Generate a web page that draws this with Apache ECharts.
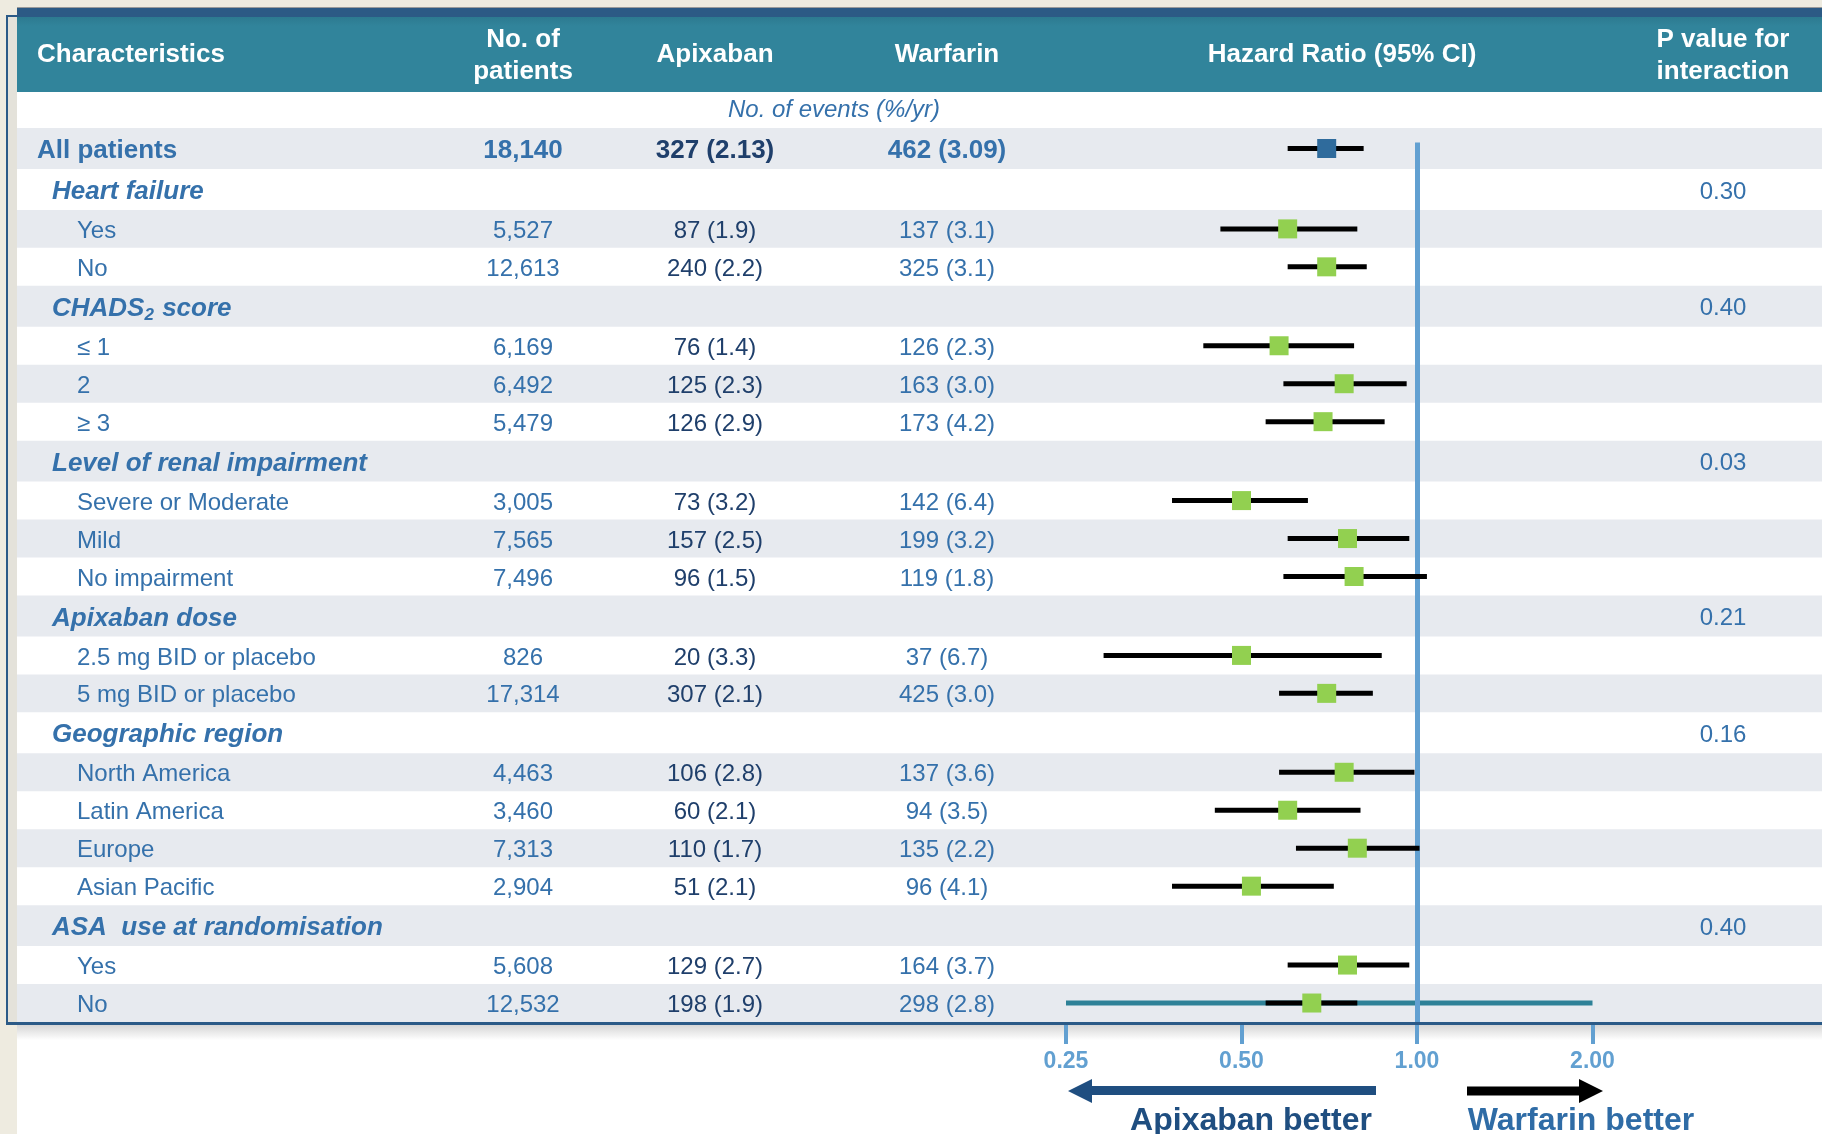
<!DOCTYPE html>
<html>
<head>
<meta charset="utf-8">
<script src="https://cdn.jsdelivr.net/npm/echarts@6/dist/echarts.min.js"></script>
<style>
  html, body { margin: 0; padding: 0; background: #EEEBE0; }
  #chart { width: 1822px; height: 1134px; }
</style>
</head>
<body>
<div id="chart"></div>
<script>
// ---- Subgroup table ----
const characteristics = [
  'All patients', 'Heart failure', 'Yes', 'No',
  'CHADS₂ score', '≤ 1', '2', '≥ 3',
  'Level of renal impairment', 'Severe or Moderate', 'Mild', 'No impairment',
  'Apixaban dose', '2.5 mg BID or placebo', '5 mg BID or placebo',
  'Geographic region', 'North America', 'Latin America', 'Europe', 'Asian Pacific',
  'ASA  use at randomisation', 'Yes', 'No'
];
const rowKinds = [
  'total', 'group', 'item', 'item',
  'group', 'item', 'item', 'item',
  'group', 'item', 'item', 'item',
  'group', 'item', 'item',
  'group', 'item', 'item', 'item', 'item',
  'group', 'item', 'item'
];
const patients = [
  '18,140', '', '5,527', '12,613',
  '', '6,169', '6,492', '5,479',
  '', '3,005', '7,565', '7,496',
  '', '826', '17,314',
  '', '4,463', '3,460', '7,313', '2,904',
  '', '5,608', '12,532'
];
const apixabanEvents = [
  '327 (2.13)', '', '87 (1.9)', '240 (2.2)',
  '', '76 (1.4)', '125 (2.3)', '126 (2.9)',
  '', '73 (3.2)', '157 (2.5)', '96 (1.5)',
  '', '20 (3.3)', '307 (2.1)',
  '', '106 (2.8)', '60 (2.1)', '110 (1.7)', '51 (2.1)',
  '', '129 (2.7)', '198 (1.9)'
];
const warfarinEvents = [
  '462 (3.09)', '', '137 (3.1)', '325 (3.1)',
  '', '126 (2.3)', '163 (3.0)', '173 (4.2)',
  '', '142 (6.4)', '199 (3.2)', '119 (1.8)',
  '', '37 (6.7)', '425 (3.0)',
  '', '137 (3.6)', '94 (3.5)', '135 (2.2)', '96 (4.1)',
  '', '164 (3.7)', '298 (2.8)'
];
const pInteraction = [
  '', '0.30', '', '',
  '0.40', '', '', '',
  '0.03', '', '', '',
  '0.21', '', '',
  '0.16', '', '', '', '',
  '0.40', '', ''
];

// ---- Hazard ratios (95% CI) ----
const hazardRatio = [
  0.70, null, 0.60, 0.70,
  null, 0.58, 0.75, 0.69,
  null, 0.50, 0.76, 0.78,
  null, 0.50, 0.70,
  null, 0.75, 0.60, 0.79, 0.52,
  null, 0.76, 0.66
];
const ciLower = [
  0.60, null, 0.46, 0.60,
  null, 0.43, 0.59, 0.55,
  null, 0.38, 0.60, 0.59,
  null, 0.29, 0.58,
  null, 0.58, 0.45, 0.62, 0.38,
  null, 0.60, 0.55
];
const ciUpper = [
  0.81, null, 0.79, 0.82,
  null, 0.78, 0.96, 0.88,
  null, 0.65, 0.97, 1.04,
  null, 0.87, 0.84,
  null, 0.99, 0.80, 1.01, 0.72,
  null, 0.97, 0.79
];
const hrTicks = [0.25, 0.5, 1, 2];
const referenceHR = 1;

// ---- Styling ----
const FONT = '"Liberation Sans", Arial, Helvetica, sans-serif';
const C = {
  beige: '#EEEBE0', band: '#2C5A85', teal: '#31849B', border: '#2B5A87',
  stripe: '#E7EAEF', label: '#3571AB', apix: '#1F3F6B', tick: '#62A0D1',
  green: '#92D050', total: '#2F6B9C', span: '#2E8197', arrowL: '#1F4E80',
  shadow: '#E4E2DA'
};
const COLS = { total: 37, group: 52, item: 77, patients: 523, apix: 715, warf: 947, p: 1723 };
const TEXT_DY = 2.5;

// Row bands: heading rows are a little taller than item rows.
const rowHeight = rowKinds.map(k => (k === 'item' ? 38 : 41));
const rowCenter = [];
let bandTotal = 0;
rowHeight.forEach(h => { rowCenter.push(bandTotal + h / 2); bandTotal += h; });
const lastRow = characteristics.length - 1;

const chart = echarts.init(document.getElementById('chart'), null, { renderer: 'canvas' });

function txt(text, x, y, o) {
  return {
    type: 'text', z2: 10,
    style: Object.assign({
      text: text, x: x, y: y + TEXT_DY, fill: C.label, fontFamily: FONT, fontSize: 24,
      fontWeight: 'normal', fontStyle: 'normal', align: 'center', verticalAlign: 'middle'
    }, o || {})
  };
}

function labelElement(label, kind, y) {
  const x = kind === 'total' ? COLS.total : (kind === 'group' ? COLS.group : COLS.item);
  const base = {
    fontSize: kind === 'item' ? 24 : 26,
    fontWeight: kind === 'item' ? 'normal' : 'bold',
    fontStyle: kind === 'group' ? 'italic' : 'normal',
    align: 'left'
  };
  if (label.indexOf('₂') >= 0) {
    const parts = label.split('₂');
    const tok = { fontFamily: FONT, fontSize: 26, fontWeight: 'bold', fontStyle: 'italic', fill: C.label };
    return txt('{m|' + parts[0] + '}{s|2}{m|' + parts[1] + '}', x, y, Object.assign(base, {
      rich: {
        m: tok,
        s: Object.assign({}, tok, { fontSize: 17, padding: [14, 1, 0, 0] })
      }
    }));
  }
  return txt(label, x, y, base);
}

function renderTableRow(params, api) {
  const i = api.value(2);
  const cs = params.coordSys;
  const y = api.coord([0, api.value(1)])[1];
  const h = api.size([0, rowHeight[i]])[1];
  const kind = rowKinds[i];
  const children = [];
  if (i % 2 === 0) {
    children.push({ type: 'rect', shape: { x: cs.x, y: y - h / 2, width: cs.width, height: h }, style: { fill: C.stripe } });
  }
  children.push(labelElement(characteristics[i], kind, y));
  const numStyle = kind === 'total' ? { fontSize: 26, fontWeight: 'bold' } : {};
  if (patients[i]) children.push(txt(patients[i], COLS.patients, y, numStyle));
  if (apixabanEvents[i]) children.push(txt(apixabanEvents[i], COLS.apix, y, Object.assign({ fill: C.apix }, numStyle)));
  if (warfarinEvents[i]) children.push(txt(warfarinEvents[i], COLS.warf, y, numStyle));
  if (pInteraction[i]) children.push(txt(pInteraction[i], COLS.p, y));
  return { type: 'group', children: children };
}

function renderForest(params, api) {
  const i = api.value(4);
  const yv = api.value(1);
  const p = api.coord([api.value(0), yv]);
  const lo = api.coord([api.value(2), yv]);
  const hi = api.coord([api.value(3), yv]);
  const s = 19;
  return {
    type: 'group',
    children: [
      { type: 'line', shape: { x1: lo[0], y1: p[1], x2: hi[0], y2: p[1] }, style: { stroke: '#000', lineWidth: 5 } },
      { type: 'rect', shape: { x: p[0] - s / 2, y: p[1] - s / 2, width: s, height: s },
        style: { fill: rowKinds[i] === 'total' ? C.total : C.green } }
    ]
  };
}

const forestData = [];
hazardRatio.forEach((hr, i) => {
  if (hr != null) forestData.push([hr, rowCenter[i], ciLower[i], ciUpper[i], i]);
});

const headerWhite = { fill: '#FFFFFF', fontSize: 26, fontWeight: 'bold', lineHeight: 32 };
const rowAxis = { type: 'value', min: 0, max: bandTotal, inverse: true, show: false };

const option = {
  backgroundColor: C.beige,
  animation: false,
  grid: [
    { left: 17, top: 128, width: 1805, height: 894, outerBoundsMode: 'none' },
    { left: 1066, top: 128, width: 526.5, height: 894, outerBoundsMode: 'none' }
  ],
  xAxis: [
    { gridIndex: 0, type: 'value', min: 0, max: 1, show: false },
    {
      gridIndex: 1, type: 'log', logBase: 2, min: hrTicks[0], max: hrTicks[hrTicks.length - 1],
      position: 'bottom', z: 15,
      axisLine: { show: false, onZero: false },
      axisTick: { show: true, length: 22, lineStyle: { color: C.tick, width: 4 } },
      axisLabel: {
        show: true, showMinLabel: true, showMaxLabel: true, margin: 28,
        color: C.tick, fontFamily: FONT, fontSize: 23, fontWeight: 'bold',
        formatter: v => Number(v).toFixed(2)
      },
      splitLine: { show: false }
    }
  ],
  yAxis: [
    Object.assign({ gridIndex: 0 }, rowAxis),
    Object.assign({ gridIndex: 1 }, rowAxis)
  ],
  series: [
    {
      type: 'custom', name: 'table', xAxisIndex: 0, yAxisIndex: 0, z: 1,
      renderItem: renderTableRow,
      encode: { x: 0, y: 1 },
      data: characteristics.map((_, i) => [0, rowCenter[i], i]),
      silent: true
    },
    {
      type: 'line', name: 'axis span', xAxisIndex: 1, yAxisIndex: 1, z: 3,
      symbol: 'none', silent: true,
      lineStyle: { color: C.span, width: 5 },
      data: [[hrTicks[0], rowCenter[lastRow]], [hrTicks[hrTicks.length - 1], rowCenter[lastRow]]],
      markLine: {
        silent: true, symbol: ['none', 'none'], label: { show: false },
        lineStyle: { color: C.tick, width: 5, type: 'solid' },
        data: [[{ coord: [referenceHR, rowCenter[0] - 6] }, { coord: [referenceHR, bandTotal] }]]
      }
    },
    {
      type: 'custom', name: 'hazard ratio', xAxisIndex: 1, yAxisIndex: 1, z: 5,
      renderItem: renderForest,
      encode: { x: [0, 2, 3], y: 1 },
      data: forestData,
      silent: true
    }
  ],
  graphic: [
    // area below the panel
    { type: 'rect', z: 0, shape: { x: 17, y: 1025, width: 1805, height: 109 },
      style: { fill: new echarts.graphic.LinearGradient(0, 0, 0, 1, [
        { offset: 0, color: '#D6D6D6' }, { offset: 0.14, color: '#FFFFFF' }, { offset: 1, color: '#FFFFFF' }]) } },
    // panel shadow strip and body
    { type: 'rect', z: 0, shape: { x: 8, y: 17, width: 9, height: 1005 }, style: { fill: C.shadow } },
    { type: 'rect', z: 0, shape: { x: 17, y: 92, width: 1805, height: 930 }, style: { fill: '#FFFFFF' } },
    // top band and header
    { type: 'rect', z: 0, shape: { x: 17, y: 7, width: 1805, height: 1 }, style: { fill: '#9A9A9A' } },
    { type: 'rect', z: 0, shape: { x: 17, y: 8, width: 1805, height: 9 }, style: { fill: C.band } },
    { type: 'rect', z: 0, shape: { x: 17, y: 17, width: 1805, height: 75 },
      style: { fill: new echarts.graphic.LinearGradient(0, 0, 0, 1, [
        { offset: 0, color: '#2D7A90' }, { offset: 0.12, color: C.teal }, { offset: 1, color: C.teal }]) } },
    // panel frame
    { type: 'rect', z: 20, shape: { x: 6, y: 15, width: 2, height: 1010 }, style: { fill: C.border } },
    { type: 'rect', z: 20, shape: { x: 6, y: 15, width: 11, height: 2 }, style: { fill: C.border } },
    { type: 'rect', z: 20, shape: { x: 6, y: 1022, width: 1816, height: 3 }, style: { fill: C.border } },
    // column headings
    Object.assign(txt('Characteristics', 37, 52, Object.assign({}, headerWhite, { align: 'left' })), { z: 1 }),
    Object.assign(txt('No. of\npatients', COLS.patients, 53, headerWhite), { z: 1 }),
    Object.assign(txt('Apixaban', COLS.apix, 52, headerWhite), { z: 1 }),
    Object.assign(txt('Warfarin', COLS.warf, 52, headerWhite), { z: 1 }),
    Object.assign(txt('Hazard Ratio (95% CI)', 1342, 52, headerWhite), { z: 1 }),
    Object.assign(txt('P value for\ninteraction', COLS.p, 53, headerWhite), { z: 1 }),
    Object.assign(txt('No. of events (%/yr)', 834, 108, { fontStyle: 'italic' }), { z: 1 }),
    // direction arrows
    { type: 'polygon', z: 1, shape: { points: [[1068, 1091], [1092, 1079], [1092, 1086], [1376, 1086], [1376, 1095], [1092, 1095], [1092, 1103]] },
      style: { fill: C.arrowL } },
    { type: 'polygon', z: 1, shape: { points: [[1467, 1086.5], [1579, 1086.5], [1579, 1079], [1603, 1091], [1579, 1103], [1579, 1095.5], [1467, 1095.5]] },
      style: { fill: '#000000' } },
    Object.assign(txt('Apixaban better', 1251, 1119, { fill: C.arrowL, fontSize: 32, fontWeight: 'bold' }), { z: 1 }),
    Object.assign(txt('Warfarin better', 1581, 1119, { fill: '#2F6CA6', fontSize: 32, fontWeight: 'bold' }), { z: 1 })
  ]
};

chart.setOption(option);
</script>
</body>
</html>
